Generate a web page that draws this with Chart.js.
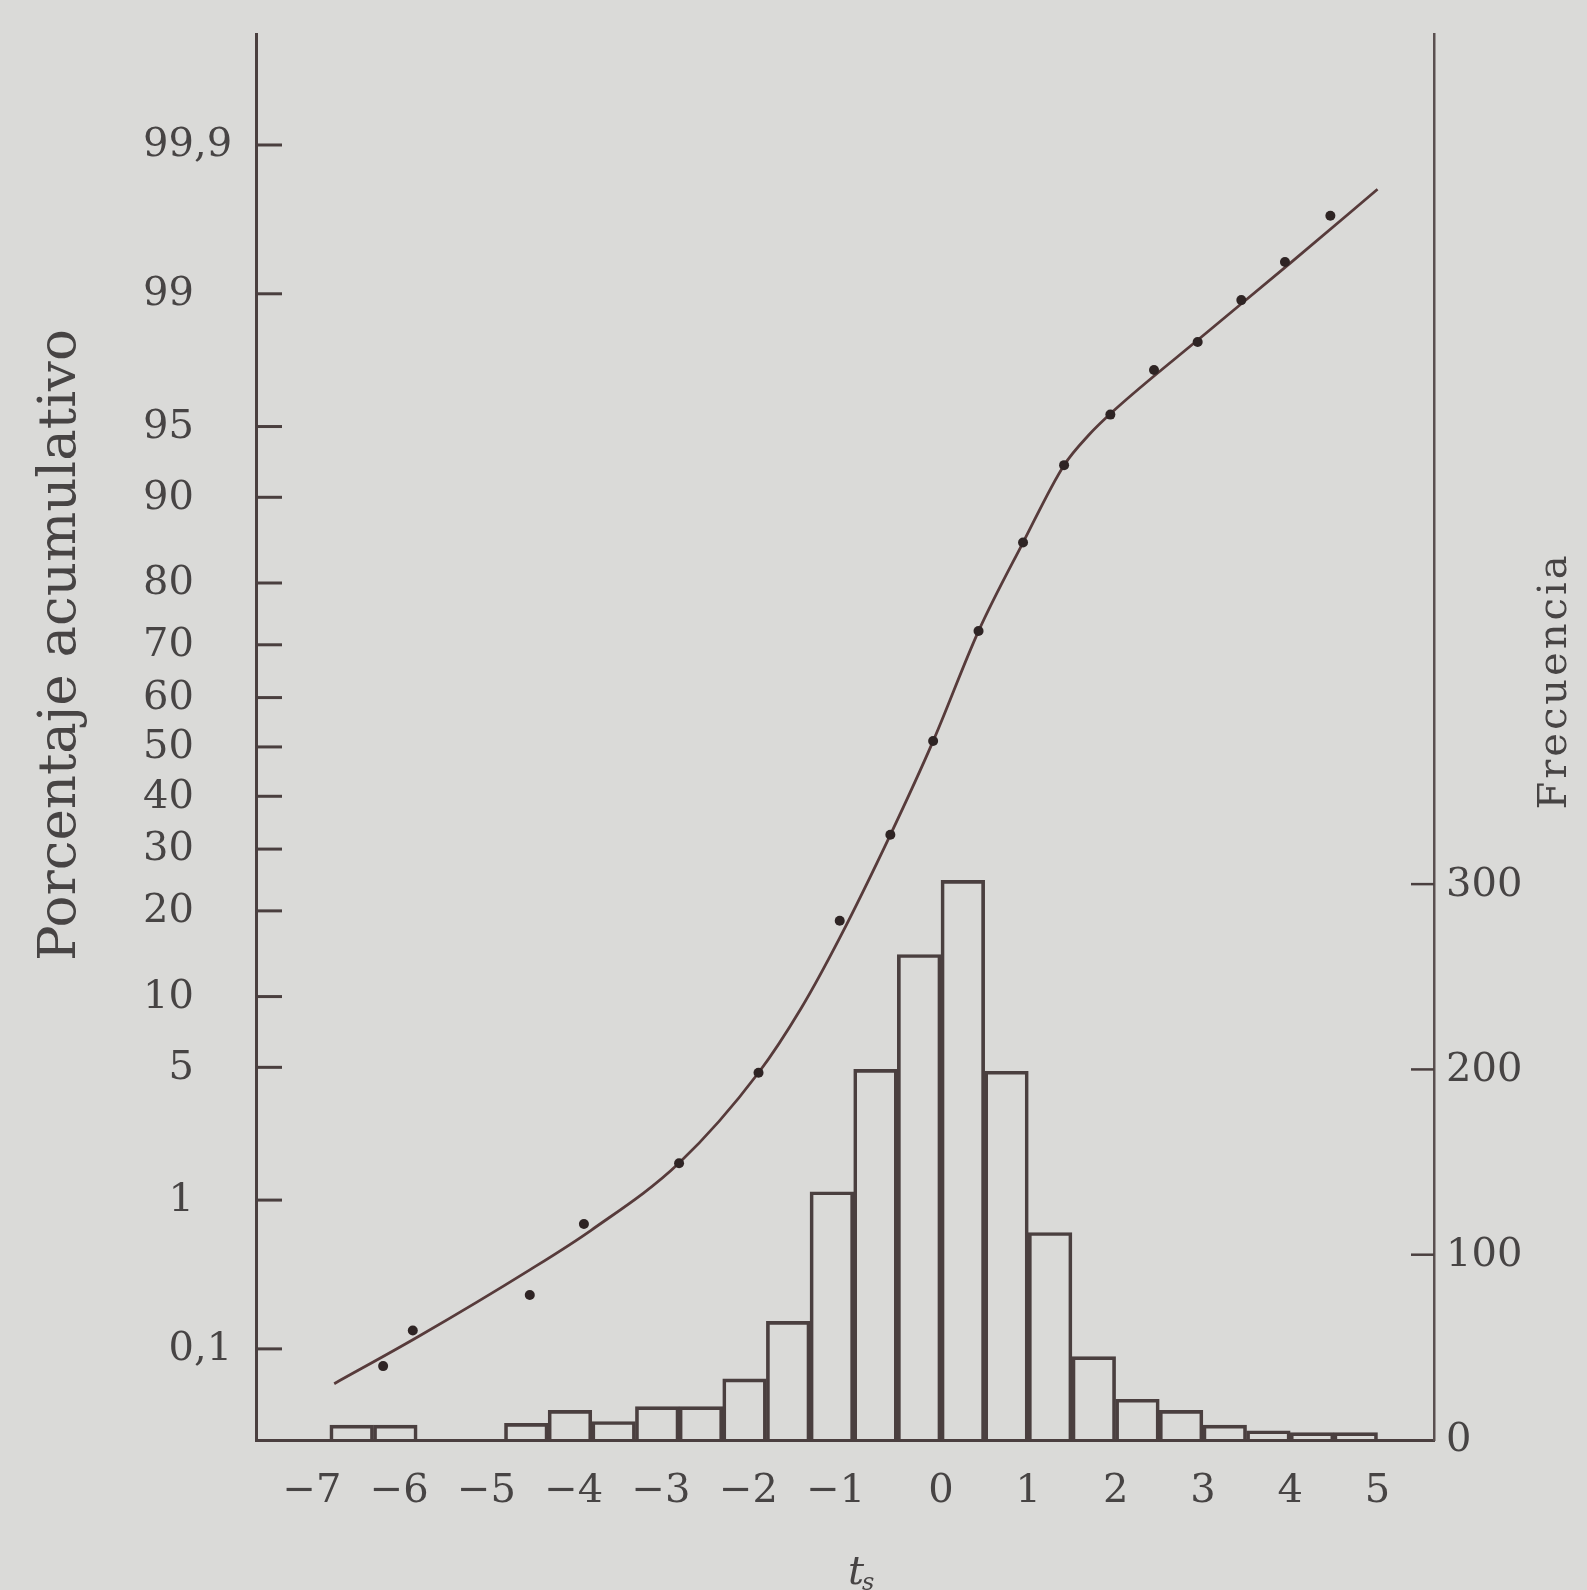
<!DOCTYPE html>
<html>
<head>
<meta charset="utf-8">
<script src="https://cdn.jsdelivr.net/npm/chart.js@4.4.1/dist/chart.umd.min.js"></script>
<style>
  html, body { margin: 0; padding: 0; background: #dadad8; }
  canvas { display: block; }
</style>
</head>
<body>
<canvas id="chart" width="1587" height="1590"></canvas>
<script>
// histogram: bin centres (t) and frequencies, bins are 0.5 wide
const binMid = [-6.75, -6.25, -4.75, -4.25, -3.75, -3.25, -2.75, -2.25, -1.75, -1.25, -0.75, -0.25,
                0.25, 0.75, 1.25, 1.75, 2.25, 2.75, 3.25, 3.75, 4.25, 4.75];
const freq = [8, 8, 9, 16, 10, 18, 18, 33, 64, 134, 200, 262,
              302, 199, 112, 45, 22, 16, 8, 5, 4, 4];

// observed cumulative percentages (dots)
const ptT = [-6.39, -6.05, -4.71, -4.09, -3.0, -2.09, -1.16, -0.58, -0.09, 0.43, 0.94, 1.41,
             1.94, 2.44, 2.94, 3.44, 3.94, 4.46];
const ptPct = [0.074, 0.137, 0.245, 0.716, 1.63, 4.72, 18.6, 32.6, 51.2, 72.4, 85.3, 92.6,
               95.6, 97.35, 98.12, 98.91, 99.36, 99.68];

// fitted curve
const curveT = [-6.95, -6.0, -4.71, -4.0, -3.0, -2.09, -1.6, -1.16, -0.58, -0.09, 0.43, 0.94,
                1.41, 1.69, 2.0, 3.0, 4.0, 5.0];
const curvePct = [0.054, 0.122, 0.363, 0.659, 1.634, 4.72, 9.01, 16.35, 32.6, 51.2, 72.4, 85.3,
                  92.6, 94.52, 95.86, 98.26, 99.35, 99.79];

// axis ticks
const pctTicks = [0.1, 1, 5, 10, 20, 30, 40, 50, 60, 70, 80, 90, 95, 99, 99.9];
const pctLabels = ['0,1', '1', '5', '10', '20', '30', '40', '50', '60', '70', '80', '90', '95', '99', '99,9'];
const freqTicks = [0, 100, 200, 300];
const tTicks = [-7, -6, -5, -4, -3, -2, -1, 0, 1, 2, 3, 4, 5];

// normal probability scale: percent -> z (Acklam's inverse normal)
function probit(pct) {
    const p = pct / 100;
    const a = [-3.969683028665376e+01, 2.209460984245205e+02, -2.759285104469687e+02, 1.383577518672690e+02, -3.066479806614716e+01, 2.506628277459239e+00];
    const b = [-5.447609879822406e+01, 1.615858368580409e+02, -1.556989798598866e+02, 6.680131188771972e+01, -1.328068155288572e+01];
    const c = [-7.784894002430293e-03, -3.223964580411365e-01, -2.400758277161838e+00, -2.549732539343734e+00, 4.374664141464968e+00, 2.938163982698783e+00];
    const d = [7.784695709041462e-03, 3.224671290700398e-01, 2.445134137142996e+00, 3.754408661907416e+00];
    const pl = 0.02425;
    let q, r;
    if (p < pl) {
        q = Math.sqrt(-2 * Math.log(p));
        return (((((c[0]*q+c[1])*q+c[2])*q+c[3])*q+c[4])*q+c[5]) / ((((d[0]*q+d[1])*q+d[2])*q+d[3])*q+1);
    }
    if (p <= 1 - pl) {
        q = p - 0.5; r = q * q;
        return (((((a[0]*r+a[1])*r+a[2])*r+a[3])*r+a[4])*r+a[5])*q / (((((b[0]*r+b[1])*r+b[2])*r+b[3])*r+b[4])*r+1);
    }
    q = Math.sqrt(-2 * Math.log(1 - p));
    return -(((((c[0]*q+c[1])*q+c[2])*q+c[3])*q+c[4])*q+c[5]) / ((((d[0]*q+d[1])*q+d[2])*q+d[3])*q+1);
}

const ink = '#4a3f3f';
const textInk = '#474444';
const serif = '"DejaVu Serif", "Liberation Serif", serif';

// ticks, labels and titles drawn from the chart's own scales
const labelPlugin = {
    id: 'labels',
    afterDraw(chart) {
        const ctx = chart.ctx;
        const area = chart.chartArea;
        const yp = chart.scales.yPct, yf = chart.scales.yFreq, x = chart.scales.x;
        ctx.save();
        ctx.strokeStyle = ink;
        ctx.fillStyle = textInk;
        ctx.lineWidth = 3;

        // left: inward ticks + labels aligned on the comma
        ctx.font = '40px ' + serif;
        ctx.textBaseline = 'middle';
        ctx.textAlign = 'left';
        pctTicks.forEach((p, i) => {
            const y = yp.getPixelForValue(probit(p));
            ctx.beginPath();
            ctx.moveTo(area.left, y);
            ctx.lineTo(area.left + 26, y);
            ctx.stroke();
            const lab = pctLabels[i];
            const intPart = lab.split(',')[0];
            ctx.fillText(lab, 194 - ctx.measureText(intPart).width, y + 1);
        });

        // right: frequency ticks
        ctx.lineWidth = 2.5;
        freqTicks.forEach(v => {
            const y = yf.getPixelForValue(v);
            if (v > 0) {
                ctx.beginPath();
                ctx.moveTo(area.right - 23, y);
                ctx.lineTo(area.right, y);
                ctx.stroke();
            }
            ctx.fillText(String(v), area.right + 12, y + 1);
        });

        // bottom: t labels
        ctx.textAlign = 'center';
        tTicks.forEach(v => {
            const px = x.getPixelForValue(v) - (v < 0 ? 18 : 0);
            const lab = v < 0 ? '\u2212' + Math.abs(v) : String(v);
            ctx.fillText(lab, px, 1492);
        });

        // axis titles
        ctx.save();
        ctx.translate(61, 645);
        ctx.rotate(-Math.PI / 2);
        ctx.font = '53px ' + serif;
        ctx.textAlign = 'center';
        ctx.fillText('Porcentaje acumulativo', 0, 0);
        ctx.restore();

        ctx.save();
        ctx.translate(1556, 681);
        ctx.rotate(-Math.PI / 2);
        ctx.font = '40px ' + serif;
        ctx.letterSpacing = '3px';
        ctx.textAlign = 'center';
        ctx.fillText('Frecuencia', 0, 0);
        ctx.restore();

        ctx.textBaseline = 'alphabetic';
        ctx.textAlign = 'left';
        ctx.font = 'italic 40px ' + serif;
        ctx.fillText('t', 848, 1584);
        ctx.font = 'italic 24px ' + serif;
        ctx.fillText('s', 862, 1590);
        ctx.restore();
    }
};

const chart = new Chart(document.getElementById('chart'), {
    type: 'bar',
    data: {
        datasets: [
            {
                type: 'scatter',
                data: ptT.map((t, i) => ({ x: t, y: probit(ptPct[i]) })),
                yAxisID: 'yPct',
                pointRadius: 5,
                pointBackgroundColor: '#2e2424',
                pointBorderWidth: 0,
                order: 1
            },
            {
                type: 'line',
                data: curveT.map((t, i) => ({ x: t, y: probit(curvePct[i]) })),
                yAxisID: 'yPct',
                borderColor: '#573b3b',
                borderWidth: 2.8,
                pointRadius: 0,
                cubicInterpolationMode: 'monotone',
                fill: false,
                order: 2
            },
            {
                type: 'bar',
                data: binMid.map((t, i) => ({ x: t, y: freq[i] })),
                yAxisID: 'yFreq',
                backgroundColor: 'rgba(0,0,0,0)',
                borderColor: ink,
                borderWidth: 3,
                borderSkipped: 'bottom',
                barPercentage: 1,
                categoryPercentage: 1,
                order: 3
            }
        ]
    },
    options: {
        responsive: false,
        animation: false,
        layout: { padding: { left: 256, right: 153, top: 34, bottom: 150 } },
        scales: {
            x: {
                type: 'linear', min: -7.846, max: 5.647, offset: false,
                ticks: { display: false },
                grid: { display: false, drawTicks: false },
                border: { display: true, color: ink, width: 3 }
            },
            yPct: {
                type: 'linear', position: 'left', min: -3.558, max: 3.66,
                ticks: { display: false },
                grid: { display: false, drawTicks: false },
                border: { display: true, color: ink, width: 3 }
            },
            yFreq: {
                type: 'linear', position: 'right', min: 0, max: 758.8,
                ticks: { display: false },
                grid: { display: false, drawTicks: false },
                border: { display: true, color: '#5a5050', width: 2.5 }
            }
        },
        plugins: { legend: { display: false }, tooltip: { enabled: false } }
    },
    plugins: [labelPlugin]
});
</script>
</body>
</html>
